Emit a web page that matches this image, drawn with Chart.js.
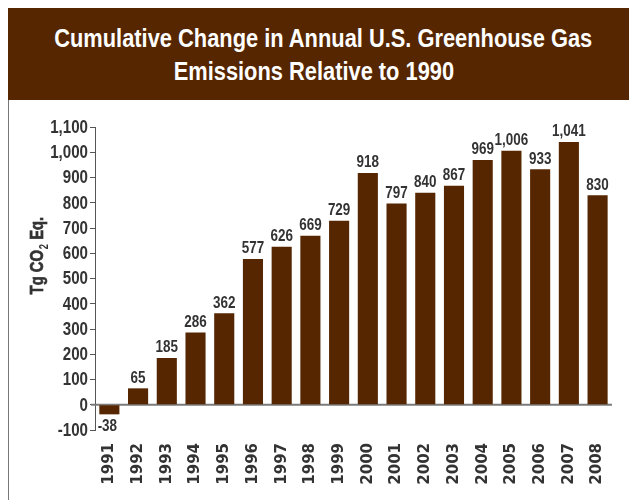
<!DOCTYPE html>
<html>
<head>
<meta charset="utf-8">
<script src="https://cdn.jsdelivr.net/npm/chart.js@4"></script>
<style>
  html, body { margin: 0; padding: 0; background: #fff; }
  #wrap { position: relative; width: 629px; height: 500px; overflow: hidden; }
  #banner {
    position: absolute; left: 8px; top: 8px; width: 621px; height: 92px;
    background: #552600; color: #fff; z-index: 2;
    font-family: "Liberation Sans", Arial, sans-serif;
    font-weight: bold; font-size: 26px; line-height: 32px;
  }
  #banner div { position: absolute; left: -5px; width: 100%; text-align: center; white-space: nowrap; }
  #banner span { display: inline-block; transform-origin: center; }
  #edge { position: absolute; left: 8px; top: 100px; width: 1px; height: 400px; background: #777; }
  #chart { position: absolute; left: 0; top: 0; }
</style>
</head>
<body>
<div id="wrap">
  <div id="banner">
    <div style="top:14px"><span>Cumulative Change in Annual U.S. Greenhouse Gas</span></div>
    <div style="top:47px"><span>Emissions Relative to 1990</span></div>
  </div>
  <div id="edge"></div>
  <canvas id="chart" width="629" height="500"></canvas>
</div>
<script>
// data
const years = ["1991", "1992", "1993", "1994", "1995", "1996", "1997", "1998", "1999",
  "2000", "2001", "2002", "2003", "2004", "2005", "2006", "2007", "2008"];
const change = [-38, 65, 185, 286, 362, 577, 626, 669, 729,
  918, 797, 840, 867, 969, 1006, 933, 1041, 830];
const yMin = -100;
const yMax = 1100;
const yStep = 100;

const sans = "'Liberation Sans', Arial, sans-serif";
const ink = "#333";
const squeeze = 0.84; // no condensed face installed, so squash horizontally
const fmt = (v) => v.toLocaleString("en-US");

// condense the banner title the same way
document.querySelectorAll("#banner span").forEach((s) => {
  s.style.transform = "scaleX(" + squeeze + ")";
});

function narrowText(ctx, text, x, y, k) {
  ctx.save();
  ctx.translate(x, y);
  ctx.scale(k, 1);
  ctx.fillText(text, 0, 0);
  ctx.restore();
}

// gray line at zero
const zeroLine = {
  id: "zeroLine",
  beforeDatasetsDraw(chart) {
    const { ctx, chartArea, scales } = chart;
    const y = scales.y.getPixelForValue(0);
    ctx.save();
    ctx.strokeStyle = "#7a7a7a";
    ctx.lineWidth = 2;
    ctx.beginPath();
    ctx.moveTo(chartArea.left - 4, y);
    ctx.lineTo(chartArea.right, y);
    ctx.stroke();
    ctx.restore();
  },
};

// y tick labels, value labels, rotated y title with subscript
const labels = {
  id: "labels",
  afterDatasetsDraw(chart) {
    const { ctx, scales } = chart;
    ctx.save();
    ctx.fillStyle = ink;

    // y ticks
    ctx.font = "bold 18px " + sans;
    ctx.textAlign = "right";
    ctx.textBaseline = "middle";
    scales.y.ticks.forEach((t) => {
      narrowText(ctx, fmt(t.value), scales.y.right - 7, scales.y.getPixelForValue(t.value) + 1, squeeze);
    });

    // bar values
    const meta = chart.getDatasetMeta(0);
    ctx.font = "bold 16px " + sans;
    ctx.textAlign = "center";
    meta.data.forEach((bar, i) => {
      const v = change[i];
      if (v >= 0) {
        ctx.textBaseline = "bottom";
        narrowText(ctx, fmt(v), bar.x, bar.y - 2, squeeze);
      } else {
        ctx.textBaseline = "top";
        narrowText(ctx, fmt(v), bar.x - 2, bar.y + 4, squeeze);
      }
    });

    // "Tg CO2 Eq." (a thin stroke makes it as heavy as the reference)
    ctx.translate(38, 256);
    ctx.rotate(-Math.PI / 2);
    ctx.scale(0.78, 1);
    ctx.textBaseline = "middle";
    ctx.textAlign = "left";
    ctx.strokeStyle = ink;
    ctx.lineWidth = 0.7;
    const big = "bold 19px " + sans;
    const small = "bold 12px " + sans;
    ctx.font = big;
    const a = "Tg CO", c = " Eq.";
    const wa = ctx.measureText(a).width;
    const wc = ctx.measureText(c).width;
    ctx.font = small;
    const wb = ctx.measureText("2").width;
    let x = -(wa + wb + wc) / 2;
    ctx.font = big;
    ctx.fillText(a, x, 0);
    ctx.strokeText(a, x, 0);
    x += wa;
    ctx.font = small;
    ctx.fillText("2", x + 1, 7);
    x += wb + 1;
    ctx.font = big;
    ctx.fillText(c, x, 0);
    ctx.strokeText(c, x, 0);
    ctx.restore();
  },
};

new Chart(document.getElementById("chart"), {
  type: "bar",
  data: {
    labels: years,
    datasets: [
      {
        data: change,
        backgroundColor: "#552600",
        barPercentage: 0.7,
        categoryPercentage: 1,
      },
    ],
  },
  options: {
    responsive: false,
    animation: false,
    layout: { padding: { top: 127, right: 15, bottom: 0, left: 0 } },
    plugins: {
      legend: { display: false },
      tooltip: { enabled: false },
    },
    scales: {
      x: {
        grid: { display: false, drawTicks: false },
        border: { display: false },
        ticks: {
          color: ink,
          minRotation: 90,
          maxRotation: 90,
          padding: 13,
          autoSkip: false,
          font: { family: "'DejaVu Sans', sans-serif", weight: "bold", size: 15 },
        },
        afterFit(scale) { scale.height = 70; },
      },
      y: {
        min: yMin,
        max: yMax,
        grid: { drawOnChartArea: false, drawTicks: true, tickLength: 5, color: "#555" },
        border: { display: true, color: "#555" },
        ticks: { stepSize: yStep, display: false },
        afterFit(scale) { scale.width = 95; },
      },
    },
  },
  plugins: [zeroLine, labels],
});
</script>
</body>
</html>
